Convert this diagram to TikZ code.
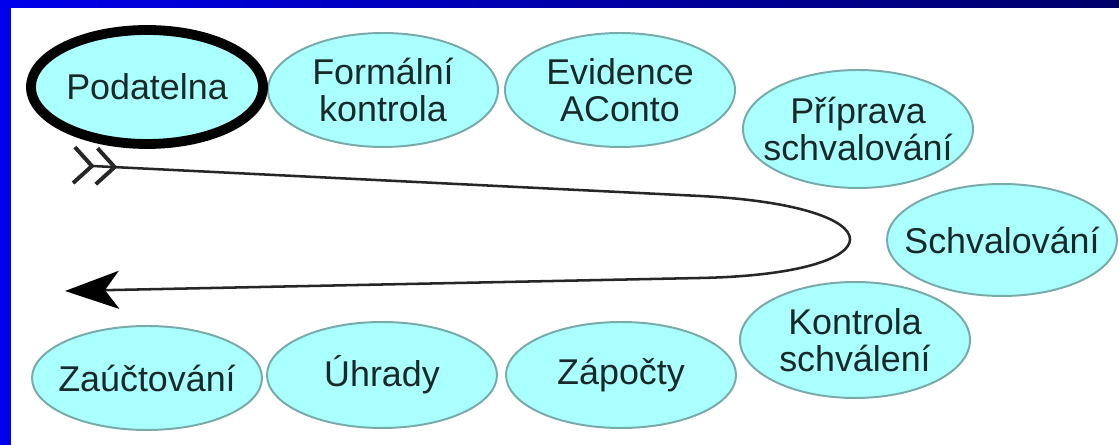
\documentclass[tikz,border=0pt]{standalone}
\usepackage{fontspec}
\setmainfont{Liberation Sans}
\usepackage{tikz}
\usetikzlibrary{shapes.geometric, arrows.meta, positioning}
\definecolor{stagecolor}{RGB}{170, 255, 255}
\definecolor{edgecolor}{RGB}{120, 170, 170}
\definecolor{frameblue}{RGB}{0, 0, 235}
\definecolor{framenavy}{RGB}{0, 0, 105}
\definecolor{textcolor}{RGB}{25, 40, 40}

\begin{document}
\begin{tikzpicture}[
    stage/.style={draw=edgecolor, line width=1.4pt, fill=stagecolor, ellipse, minimum width=5.75cm, minimum height=2.85cm},
    current/.style={stage, draw=black, line width=7pt, minimum width=5.8cm},
    stagetext/.style={font=\fontsize{25.5}{26}\selectfont, text=textcolor, align=center},
    flow/.style={line width=1.8pt, draw=black!85}
]
    % Frame
    \useasboundingbox (0, 0) rectangle (27.975, 11.125);
    \fill[white] (0, 0) rectangle (27.975, 11.125);
    \fill[frameblue] (0, 0) rectangle (0.275, 11.125);
    \shade[left color=frameblue, right color=framenavy] (0, 10.925) rectangle (27.975, 11.125);

    % Top row
    \node[stage] (formalni) at (9.575, 8.875) {};
    \node[stagetext] at (formalni) {Formální\\kontrola};

    \node[stage] (evidence) at (15.5, 8.875) {};
    \node[stagetext] at (evidence) {Evidence\\AConto};

    \node[current] (podatelna) at (3.675, 8.95) {};
    \node[stagetext] at (podatelna) {Podatelna};

    % Right side
    \node[stage, minimum height=2.95cm] (priprava) at (21.45, 7.9) {};
    \node[stagetext] at (priprava) {Příprava\\schvalování};

    \node[stage, minimum height=2.8cm] (schvalovani) at (25.05, 5.125) {};
    \node[stagetext] at (schvalovani) {Schvalování};

    \node[stage, minimum height=2.9cm] (kontrola) at (21.375, 2.625) {};
    \node[stagetext] at (kontrola) {Kontrola\\schválení};

    % Bottom row
    \node[stage, minimum height=2.65cm] (zapocty) at (15.525, 1.75) {};
    \node[stagetext] at (zapocty) {Zápočty};

    \node[stage, minimum height=2.65cm] (uhrady) at (9.55, 1.75) {};
    \node[stagetext] at (uhrady) {Úhrady};

    \node[stage, minimum height=2.6cm] (zauctovani) at (3.675, 1.675) {};
    \node[stagetext] at (zauctovani) {Zaúčtování};

    % Flow
    \coordinate (flowstart) at (1.8, 7.0);
    \coordinate (flowend) at (1.625, 3.85);
    \draw[flow, {Straight Barb[reversed, length=0.45cm, width=0.9cm, line width=2.8pt] Straight Barb[reversed, length=0.45cm, width=0.9cm, line width=2.8pt]}-{Stealth[length=1.35cm, width=0.95cm, inset=0.35cm, color=black]}]
        (flowstart) -- (17.5, 6.225) .. controls (22.5, 5.975) and (22.5, 4.275) .. (17.5, 4.175) -- (flowend);

\end{tikzpicture}
\end{document}
